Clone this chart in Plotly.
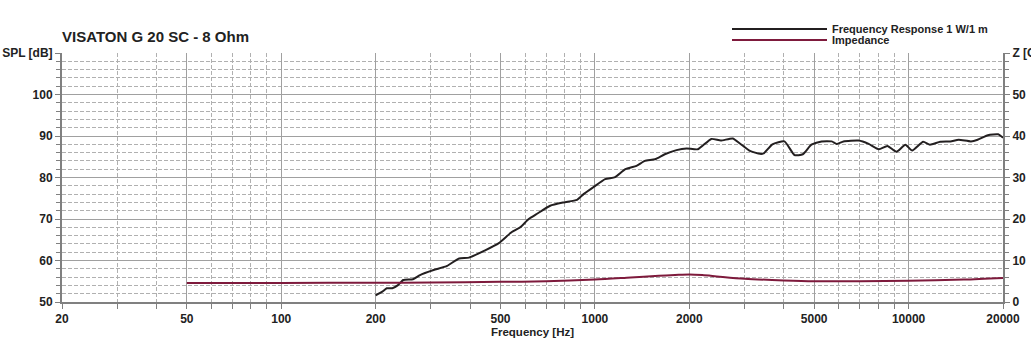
import plotly.graph_objects as go

# ---- data ----
spl_freq = [200, 210, 217, 226, 235, 245, 263, 277, 306, 338, 369, 397, 445, 494, 542, 578, 615,
            652, 720, 795, 877, 920, 990, 1078, 1160, 1250, 1357, 1443, 1555, 1670, 1820, 1960,
            2130, 2350, 2520, 2750, 2900, 3120, 3360, 3450, 3680, 4020, 4330, 4600, 4900, 5280,
            5690, 5900, 6200, 6930, 7460, 8040, 8560, 9150, 9770, 10270, 11130, 11700, 12610,
            13600, 14450, 15800, 16600, 17900, 19300, 20000]
spl_db = [51.6, 52.5, 53.3, 53.3, 54.0, 55.3, 55.5, 56.5, 57.7, 58.7, 60.5, 60.7, 62.4, 64.2, 66.8,
          68.0, 70.0, 71.2, 73.2, 74.0, 74.6, 76.0, 77.7, 79.6, 80.1, 82.0, 82.8, 84.0, 84.4, 85.6,
          86.6, 87.0, 86.8, 89.3, 88.9, 89.4, 88.2, 86.4, 85.7, 85.8, 88.0, 88.7, 85.4, 85.6, 87.9,
          88.7, 88.7, 88.1, 88.7, 88.9, 88.1, 86.8, 87.6, 86.2, 87.9, 86.5, 88.6, 87.9, 88.6, 88.7,
          89.1, 88.7, 89.1, 90.2, 90.4, 89.6]

imp_freq = [50, 70, 100, 200, 300, 500, 700, 1000, 1300, 1600, 1800, 2000, 2200, 2500, 3000,
            4000, 5000, 7000, 10000, 15000, 20000]
imp_ohm = [4.6, 4.55, 4.6, 4.65, 4.7, 4.85, 5.0, 5.4, 5.9, 6.3, 6.5, 6.65, 6.5, 6.1, 5.6,
           5.2, 5.0, 5.0, 5.1, 5.4, 5.8]

x_major = [20, 50, 100, 200, 500, 1000, 2000, 5000, 10000, 20000]
x_major_labels = ["20", "50", "100", "200", "500", "1000", "2000", "5000", "10000", "20000"]
x_minor = [30, 40, 60, 70, 80, 90, 300, 400, 600, 700, 800, 900, 3000, 4000, 6000, 7000, 8000, 9000]

spl_ticks = [50, 60, 70, 80, 90, 100, 110]
spl_labels = ["50", "60", "70", "80", "90", "100", "SPL [dB]"]
z_ticks = [0, 10, 20, 30, 40, 50, 60]
z_labels = ["0", "10", "20", "30", "40", "50", "Z [Ohm]"]

title = "VISATON G 20 SC - 8 Ohm"
name_spl = "Frequency Response 1 W/1 m"
name_imp = "Impedance"

FONT = "Liberation Sans"
AXIS_COL = "#808080"
GRID_COL = "#a0a0a0"
MINOR_COL = "#b0b0b0"
TXT = "#222222"

fig = go.Figure()
fig.add_trace(go.Scatter(x=spl_freq, y=spl_db, mode="lines", name=name_spl,
                         line=dict(color="#231f20", width=2, shape="spline", smoothing=0.5),
                         yaxis="y", legend="legend"))
fig.add_trace(go.Scatter(x=imp_freq, y=imp_ohm, mode="lines", name=name_imp,
                         line=dict(color="#7e1a3c", width=2, shape="spline", smoothing=0.8),
                         yaxis="y2", legend="legend2"))

tickfont = dict(family=FONT, size=12, color=TXT, weight="bold")
legfont = dict(family=FONT, size=11, color=TXT, weight="bold")
PLOT_H = 357 - 53 - 55
PLOT_W = 1031 - 62 - 28

def leg(y_px):
    return dict(x=(727 - 62) / PLOT_W, xanchor="left", y=(302 - y_px) / PLOT_H, yanchor="middle",
                xref="paper", yref="paper", orientation="v", itemwidth=95,
                font=legfont, bgcolor="rgba(0,0,0,0)", borderwidth=0)

fig.update_layout(
    width=1031, height=357,
    margin=dict(l=62, r=28, t=53, b=55, autoexpand=False),
    paper_bgcolor="white", plot_bgcolor="white",
    font=dict(family=FONT, color=TXT),
    title=dict(text=title, x=62 / 1031, xanchor="left", xref="container",
               y=1 - 37 / 357, yanchor="middle", yref="container", pad=dict(t=0, b=0),
               font=dict(family=FONT, size=15, color=TXT, weight="bold")),
    showlegend=True,
    legend=leg(29),
    legend2=leg(40),
    xaxis=dict(type="log", range=[1.30103, 4.30103], automargin=False,
               tickmode="array", tickvals=x_major, ticktext=x_major_labels,
               showgrid=True, gridcolor=GRID_COL, gridwidth=1,
               showline=True, linecolor=AXIS_COL, linewidth=2, mirror=False,
               ticks="outside", ticklen=5, tickcolor=AXIS_COL, tickwidth=1,
               tickfont=tickfont, zeroline=False,
               minor=dict(tickmode="array", tickvals=x_minor, showgrid=True,
                          gridcolor=MINOR_COL, griddash="4px,2px", gridwidth=1,
                          ticks="outside", ticklen=5, tickcolor=AXIS_COL),
               title=dict(text="Frequency [Hz]", standoff=0,
                          font=dict(family=FONT, size=11.5, color=TXT, weight="bold"))),
    yaxis=dict(range=[50, 110], tickmode="array", tickvals=spl_ticks, ticktext=spl_labels,
               automargin=False,
               showgrid=True, gridcolor=GRID_COL, gridwidth=1,
               showline=True, linecolor=AXIS_COL, linewidth=2,
               ticks="outside", ticklen=5, tickcolor=AXIS_COL, tickwidth=1,
               tickfont=tickfont, zeroline=False,
               minor=dict(dtick=2, showgrid=True, gridcolor=MINOR_COL, griddash="4px,2px",
                          gridwidth=1, ticks="outside", ticklen=4, tickcolor=AXIS_COL)),
    yaxis2=dict(range=[0, 60], overlaying="y", side="right", anchor="x", automargin=False,
                tickmode="array", tickvals=z_ticks, ticktext=z_labels,
                showgrid=False, showline=True, linecolor=AXIS_COL, linewidth=2,
                ticks="outside", ticklen=5, tickcolor=AXIS_COL, tickwidth=1,
                tickfont=tickfont, zeroline=False,
                minor=dict(dtick=2, showgrid=False, ticks="outside", ticklen=4,
                           tickcolor=AXIS_COL)),
)

fig.write_html("out.html", config={"displayModeBar": False},
               post_script="document.body.style.margin='0';")
